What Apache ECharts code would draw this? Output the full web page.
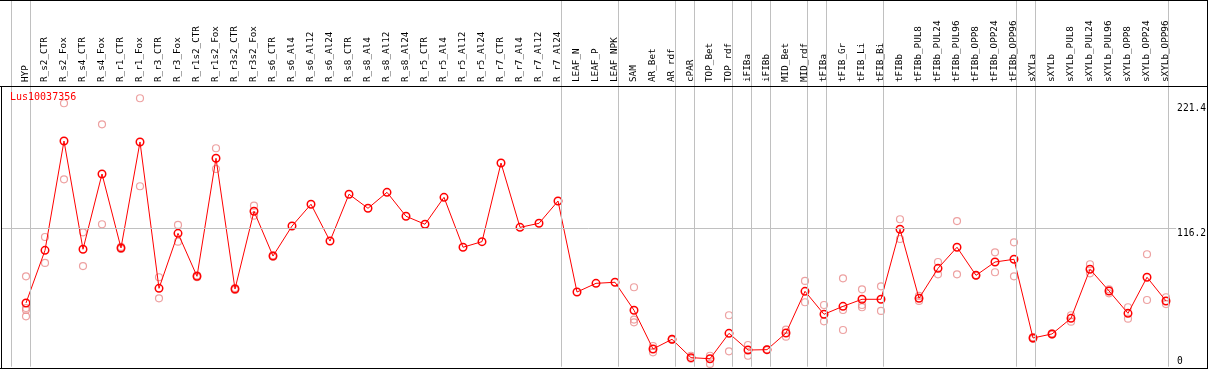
<!DOCTYPE html>
<html>
<head>
<meta charset="utf-8">
<script src="https://cdn.jsdelivr.net/npm/echarts@6.0.0/dist/echarts.min.js"></script>
<style>
html,body{margin:0;padding:0;background:#fff;}
#chart{width:1209px;height:370px;}
</style>
</head>
<body>
<div id="chart"></div>
<script>
const geneName = 'Lus10037356';
const categories = ['HYP','R_s2_CTR','R_s2_Fox','R_s4_CTR','R_s4_Fox','R_r1_CTR','R_r1_Fox','R_r3_CTR','R_r3_Fox',
  'R_r1s2_CTR','R_r1s2_Fox','R_r3s2_CTR','R_r3s2_Fox','R_s6_CTR','R_s6_Al4','R_s6_Al12','R_s6_Al24',
  'R_s8_CTR','R_s8_Al4','R_s8_Al12','R_s8_Al24','R_r5_CTR','R_r5_Al4','R_r5_Al12','R_r5_Al24',
  'R_r7_CTR','R_r7_Al4','R_r7_Al12','R_r7_Al24','LEAF_N','LEAF_P','LEAF_NPK','SAM','AR_Bet','AR_rdf',
  'cPAR','TOP_Bet','TOP_rdf','iFIBa','iFIBb','MID_Bet','MID_rdf','tFIBa','tFIB_Gr','tFIB_Li','tFIB_Bi',
  'tFIBb','tFIBb_PUL8','tFIBb_PUL24','tFIBb_PUL96','tFIBb_OPP8','tFIBb_OPP24','tFIBb_OPP96',
  'sXYLa','sXYLb','sXYLb_PUL8','sXYLb_PUL24','sXYLb_PUL96','sXYLb_OPP8','sXYLb_OPP24','sXYLb_OPP96'];
const meanValues = [53.5,97.7,189.5,98.6,161.8,99.7,188.7,65.8,112.0,
  75.9,175.0,65.2,130.5,92.9,118.1,136.4,105.5,
  144.8,133.0,146.4,126.3,119.6,142.2,100.3,105.0,
  171.0,117.0,120.4,139.1,62.7,70.0,70.9,47.4,14.9,23.0,
  7.6,6.7,28.0,14.0,14.3,28.3,63.3,44.0,50.7,56.6,56.6,
  115.4,57.4,82.6,100.3,76.7,87.9,90.2,
  24.1,27.5,40.6,81.8,63.6,44.8,75.1,55.2];
const replicateValues = [
  [75.9,49.3,47.6,42.3],[108.9,87.1],[221.2,157.3],[112.8,84.5],[203.5,119.6],[100.6,98.9],[225.4,151.5],[75.1,57.4],[119.0,105.0],
  [76.6,75.2],[183.4,166.0],[66.0,64.4],[135.2,126.8],[93.5,92.3],[],[],[],
  [],[],[],[],[],[],[],[],
  [],[],[],[],[],[],[],[66.7,39.6,37.3],[17.4,12.1],[23.4,22.6],
  [9.2,6.7],[9.2,2.3],[43.2,12.9],[18.2,9.2],[14.6,14.0],[31.1,25.2],[72.0,54.1],[51.8,38.1],[74.2,47.6,30.8],[65.0,51.8,49.9],[67.5,46.8],
  [123.8,107.2],[59.4,55.2],[87.9,77.6],[122.3,77.6],[76.9,76.5],[96.0,79.3],[104.4,75.9],
  [24.8,23.4],[28.0,27.0],[43.2,37.8],[86.0,78.4],[65.0,61.6],[49.9,40.3],[94.4,56.0],[58.3,52.6]
];
// group separators drawn after these category indices (-1 = before the first)
const separatorAfter = [-1,0,28,31,34,35,37,38,39,41,42,45,52,53,60];
const gridValue = 116.2;
const topTickLabels = [116.2, 221.4];
const bottomTickLabels = [0];

// layout
const W = 1209, H = 370;
const step = 19, firstX = 26;
const plotTop = 86, zeroY = 366.7, pxPerUnit = 1.191;
const frameLeft = 1, frameRight = 1178;
const bottomPad = H - zeroY;

const repData = [];
replicateValues.forEach((arr, i) => arr.forEach(v => repData.push([i, v])));

const xMin1 = (frameLeft - firstX) / step;
const xMax1 = (frameRight - firstX) / step;
const sepOffset = 4 / step;

const labelFont = 'DejaVu Sans Mono';

const chart = echarts.init(document.getElementById('chart'), null, {renderer: 'canvas'});
chart.setOption({
  animation: false,
  backgroundColor: '#fff',
  title: {
    text: geneName, left: 10, top: 92, padding: 0,
    textStyle: {color: '#ff0000', fontSize: 10, fontWeight: 'normal', fontFamily: labelFont}
  },
  grid: [
    {left: firstX - step / 2, width: step * categories.length, top: plotTop, bottom: bottomPad, containLabel: false},
    {left: frameLeft, width: frameRight - frameLeft, top: 0, bottom: bottomPad, containLabel: false}
  ],
  xAxis: [
    {
      type: 'category', gridIndex: 0, data: categories, position: 'top', boundaryGap: true,
      axisLine: {show: false}, axisTick: {show: false}, splitLine: {show: false},
      axisLabel: {interval: 0, rotate: 90, margin: 4, color: '#000', fontSize: 9.3, fontFamily: labelFont}
    },
    {
      type: 'value', gridIndex: 1, min: xMin1, max: xMax1, show: false
    }
  ],
  yAxis: [
    {type: 'value', gridIndex: 0, min: 0, max: (zeroY - plotTop) / pxPerUnit, show: false},
    {
      type: 'value', gridIndex: 1, min: 0, max: zeroY / pxPerUnit, position: 'right',
      axisLine: {show: false}, axisTick: {show: false}, splitLine: {show: false},
      axisLabel: {customValues: topTickLabels, margin: 1, verticalAlign: 'top', color: '#000', fontSize: 9.6, fontFamily: labelFont,
        formatter: v => String(v)}
    },
    {
      type: 'value', gridIndex: 1, min: 0, max: zeroY / pxPerUnit, position: 'right', offset: 0,
      axisLine: {show: false}, axisTick: {show: false}, splitLine: {show: false},
      axisLabel: {customValues: bottomTickLabels, margin: 1, verticalAlign: 'bottom', color: '#000', fontSize: 9.6, fontFamily: labelFont,
        formatter: v => String(v)}
    }
  ],
  graphic: [
    {type: 'line', shape: {x1: 0, y1: 0.5, x2: 1208, y2: 0.5}, style: {stroke: '#000', lineWidth: 1}, z: 10},
    {type: 'line', shape: {x1: 0, y1: 86.5, x2: 1208, y2: 86.5}, style: {stroke: '#000', lineWidth: 1}, z: 10},
    {type: 'line', shape: {x1: 1.5, y1: 86, x2: 1.5, y2: 369}, style: {stroke: '#000', lineWidth: 1}, z: 10},
    {type: 'line', shape: {x1: 0, y1: 368.5, x2: 1208, y2: 368.5}, style: {stroke: '#000', lineWidth: 1}, z: 10},
    {type: 'line', shape: {x1: 1207.5, y1: 0, x2: 1207.5, y2: 369}, style: {stroke: '#000', lineWidth: 1}, z: 10}
  ],
  series: [
    {
      type: 'line', xAxisIndex: 1, yAxisIndex: 1, data: [], silent: true, z: 1,
      markLine: {
        silent: true, symbol: ['none', 'none'], animation: false,
        label: {show: false},
        lineStyle: {color: '#c0c0c0', type: 'solid', width: 1},
        data: [{yAxis: gridValue}].concat(separatorAfter.map(i => ({xAxis: i + sepOffset})))
      }
    },
    {
      type: 'scatter', xAxisIndex: 0, yAxisIndex: 0, data: repData, z: 3, silent: true,
      symbol: 'circle', symbolSize: 7,
      itemStyle: {color: 'rgba(0,0,0,0)', borderColor: '#e98a8a', borderWidth: 1.2}
    },
    {
      type: 'line', xAxisIndex: 0, yAxisIndex: 0, data: meanValues, z: 4, silent: true,
      symbol: 'circle', symbolSize: 7.5, showAllSymbol: true,
      lineStyle: {color: '#ff0000', width: 1},
      itemStyle: {color: 'rgba(0,0,0,0)', borderColor: '#ff0000', borderWidth: 1.5}
    }
  ]
});
</script>
</body>
</html>
